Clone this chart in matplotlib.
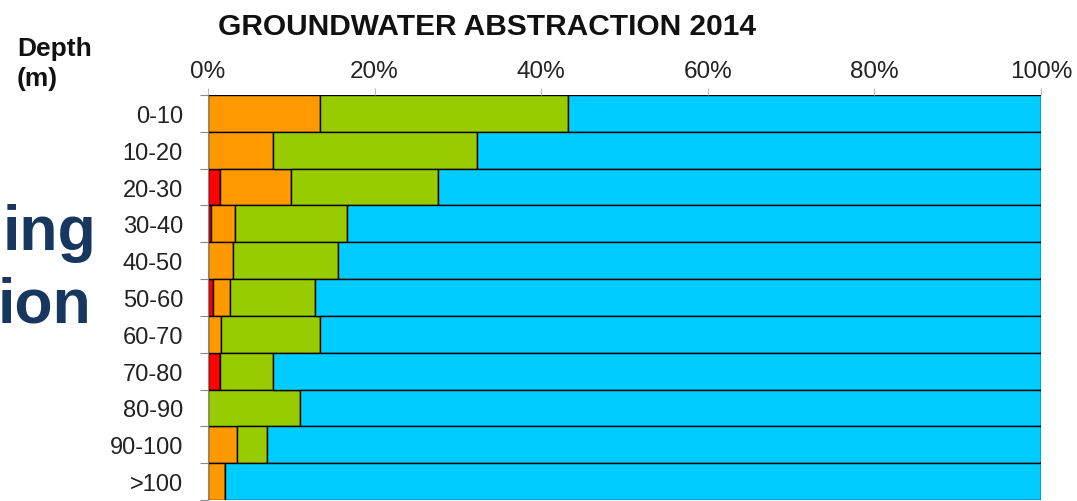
import matplotlib
matplotlib.use("Agg")
import matplotlib.pyplot as plt
import numpy as np

plt.rcParams['font.family'] = ['Liberation Sans', 'DejaVu Sans']

depths = ["0-10", "10-20", "20-30", "30-40", "40-50", "50-60",
          "60-70", "70-80", "80-90", "90-100", ">100"]
red    = [0.0, 0.0, 1.4, 0.4, 0.0, 0.6, 0.0, 1.5, 0.0, 0.0, 0.0]
orange = [13.5, 7.8, 8.6, 2.8, 3.0, 2.0, 1.6, 0.0, 0.0, 3.5, 2.0]
green  = [29.7, 24.5, 17.6, 13.5, 12.6, 10.2, 11.9, 6.3, 11.0, 3.6, 0.0]
blue   = [56.8, 67.7, 72.4, 83.3, 84.4, 87.2, 86.5, 92.2, 89.0, 92.9, 98.0]
xticks = [0, 20, 40, 60, 80, 100]
xticklabels = ["0%", "20%", "40%", "60%", "80%", "100%"]

series = [red, orange, green, blue]
colors = ["#FF0000", "#FF9900", "#99CC00", "#00CCFF"]

fig = plt.figure(figsize=(10.77, 5.02), dpi=100)
ax = fig.add_axes([208/1077, 1 - 501/502, (1041-208)/1077, (501-96)/502])

y = np.arange(len(depths))
left = np.zeros(len(depths))
for vals, c in zip(series, colors):
    vals = np.array(vals)
    ax.barh(y, vals, left=left, height=1.0, color=c, edgecolor="black",
            linewidth=1.0)
    left += vals

ax.set_xlim(0, 100)
ax.set_ylim(10.5, -0.5)

ax.xaxis.tick_top()
ax.set_xticks(xticks)
ax.set_xticklabels(xticklabels, fontsize=17.5, color="#222222")
ax.tick_params(axis="x", direction="out", length=5, width=0.8,
               color="#BBBBBB", pad=4)

ax.set_yticks(y)
ax.set_yticklabels(depths, fontsize=17, color="#222222")
ax.set_yticks(np.arange(-0.5, len(depths), 1.0), minor=True)
ax.tick_params(axis="y", which="major", length=0, pad=18)
ax.tick_params(axis="y", which="minor", length=6, width=0.8, color="#888888")

for s in ["top", "right", "bottom"]:
    ax.spines[s].set_visible(False)
ax.spines["left"].set_color("#888888")

fig.text(487/1077, 1 - 35/502, "GROUNDWATER ABSTRACTION 2014",
         fontsize=21.5, fontweight="bold", ha="center", va="baseline",
         color="#111111")
fig.text(17/1077, 1 - 56/502, "Depth", fontsize=19, fontweight="bold",
         ha="left", va="baseline", color="#111111")
fig.text(17/1077, 1 - 86/502, "(m)", fontsize=19, fontweight="bold",
         ha="left", va="baseline", color="#111111")

fig.text(96/1077, 1 - 250/502, "ing", fontsize=45, fontweight="bold",
         ha="right", va="baseline", color="#17375E")
fig.text(91/1077, 1 - 323/502, "ion", fontsize=45, fontweight="bold",
         ha="right", va="baseline", color="#17375E")

fig.savefig("out.png", dpi=100)
